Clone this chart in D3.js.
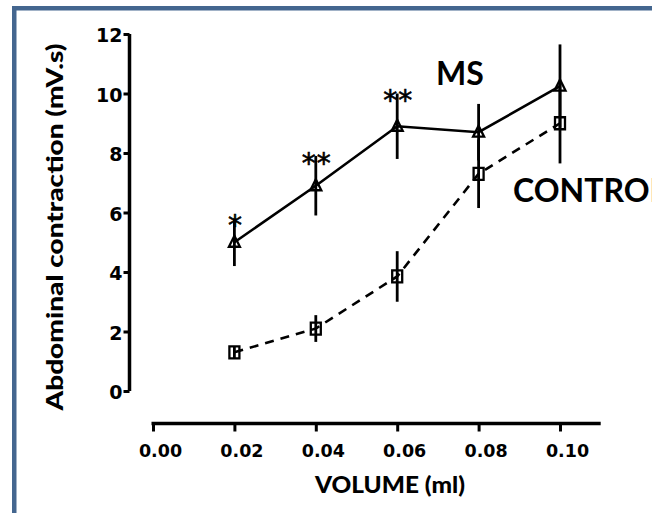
<!DOCTYPE html>
<html>
<head>
<meta charset="utf-8">
<script src="https://cdn.jsdelivr.net/npm/d3@7"></script>
<style>
html,body{margin:0;padding:0;background:#fff;overflow:hidden;}
svg{display:block;}
</style>
</head>
<body>
<svg id="chart" width="652" height="513"></svg>
<script>
// ---- data ----
const volumes = [0.02, 0.04, 0.06, 0.08, 0.10];
const msMean = [5.0, 6.9, 8.9, 8.7, 10.25];
const msErr = [0.8, 1.0, 1.1, 0.95, 1.4];
const controlMean = [1.3, 2.1, 3.85, 7.3, 9.0];
const controlErr = [0.2, 0.45, 0.85, 1.15, 1.35];
const significance = ["*", "**", "**", "", ""];
const xTicks = [0.00, 0.02, 0.04, 0.06, 0.08, 0.10];
const yTicks = [0, 2, 4, 6, 8, 10, 12];
const xTitle = "VOLUME (ml)";
const yTitle = "Abdominal contraction (mV.s)";
const seriesNames = ["MS", "CONTROL"];

const svg = d3.select("#chart");
const W = 652, H = 513;

// frame
const frameColor = "#44668f";
svg.append("rect").attr("x", 12).attr("y", 6).attr("width", W - 12).attr("height", 4.5).attr("fill", frameColor);
svg.append("rect").attr("x", 12).attr("y", 6).attr("width", 4.5).attr("height", H - 6).attr("fill", frameColor);

const x = d3.scaleLinear().domain([0, 0.11]).range([153, 600.7]);
const y = d3.scaleLinear().domain([0, 12]).range([391, 34]);

// axes
const yAxisX = 129.5, xAxisY = 423.5;
const gy = svg.append("g").attr("transform", `translate(${yAxisX},0)`)
  .call(d3.axisLeft(y).tickValues(yTicks).tickSize(6).tickPadding(1).tickFormat(d3.format("d")));
gy.select(".domain").attr("d", `M0,${y(12)}V${y(0)}`).attr("stroke", "#000").attr("stroke-width", 3.5);
gy.selectAll(".tick line").attr("stroke", "#000").attr("stroke-width", 3);
gy.selectAll(".tick text").attr("font-family", "DejaVu Sans").attr("font-weight", "bold")
  .attr("font-size", 19).attr("fill", "#000").attr("dy", "0.42em");

const gx = svg.append("g").attr("transform", `translate(0,${xAxisY})`)
  .call(d3.axisBottom(x).tickValues(xTicks).tickSize(8).tickPadding(13).tickFormat(d3.format(".2f")));
gx.select(".domain").attr("d", `M${x(0) - 1.5},0H${x(0.11)}`).attr("stroke", "#000").attr("stroke-width", 3.5);
gx.selectAll(".tick line").attr("stroke", "#000").attr("stroke-width", 3);
gx.selectAll(".tick text").attr("font-family", "DejaVu Sans").attr("font-weight", "bold")
  .attr("font-size", 17.5).attr("fill", "#000").attr("dx", 7);

// titles
svg.append("text").attr("x", 390).attr("y", 493).attr("text-anchor", "middle")
  .attr("font-family", "Lato").attr("font-weight", "900").attr("font-size", 22)
  .attr("textLength", 150).attr("lengthAdjust", "spacingAndGlyphs").text(xTitle);
svg.append("text").attr("transform", "translate(63,227) rotate(-90)").attr("text-anchor", "middle")
  .attr("font-family", "Lato").attr("font-weight", "900").attr("font-size", 23)
  .attr("textLength", 367).attr("lengthAdjust", "spacingAndGlyphs").text(yTitle);

// series
const msData = volumes.map((v, i) => ({x: v, m: msMean[i], e: msErr[i], s: significance[i]}));
const ctData = volumes.map((v, i) => ({x: v, m: controlMean[i], e: controlErr[i]}));
const line = d3.line().x(d => x(d.x)).y(d => y(d.m));

svg.append("path").datum(ctData).attr("d", line).attr("fill", "none").attr("stroke", "#000")
  .attr("stroke-width", 2.6).attr("stroke-dasharray", "9,7");
svg.append("path").datum(msData).attr("d", line).attr("fill", "none").attr("stroke", "#000")
  .attr("stroke-width", 2.6);

// error bars
[ctData, msData].forEach(data => {
  svg.append("g").selectAll("line").data(data).join("line")
    .attr("x1", d => x(d.x)).attr("x2", d => x(d.x))
    .attr("y1", d => y(d.m + d.e)).attr("y2", d => y(d.m - d.e))
    .attr("stroke", "#000").attr("stroke-width", 2.8);
});

// markers
svg.append("g").selectAll("path").data(ctData).join("path")
  .attr("d", d => { const cx = x(d.x), cy = y(d.m); return `M${cx - 5},${cy - 6}h10v12h-10Z`; })
  .attr("fill", "none").attr("stroke", "#000").attr("stroke-width", 2.3);
svg.append("g").selectAll("path").data(msData).join("path")
  .attr("d", d => { const cx = x(d.x), cy = y(d.m); return `M${cx},${cy - 6.5}L${cx + 5.5},${cy + 4.5}L${cx - 5.5},${cy + 4.5}Z`; })
  .attr("fill", "none").attr("stroke", "#000").attr("stroke-width", 2.3);

// significance asterisks, centred on top of MS error bar
msData.filter(d => d.s).forEach(d => {
  const t = svg.append("text").attr("x", 0).attr("y", 0)
    .attr("font-family", "DejaVu Sans").attr("font-size", 28).attr("letter-spacing", 1)
    .attr("fill", "#000").attr("stroke", "#000").attr("stroke-width", 0.6).text(d.s);
  const bb = t.node().getBBox();
  const tx = x(d.x) - bb.width / 2 + 1;
  const ty = y(d.m + d.e) - (bb.y + bb.height * 0.28);
  t.attr("x", tx).attr("y", ty);
});

// series labels
svg.append("text").attr("x", 436).attr("y", 85)
  .attr("font-family", "Lato").attr("font-weight", "bold").attr("font-size", 32).text(seriesNames[0]);
svg.append("text").attr("x", 513).attr("y", 202)
  .attr("font-family", "Lato").attr("font-weight", "bold").attr("font-size", 32).text(seriesNames[1]);
</script>
</body>
</html>
